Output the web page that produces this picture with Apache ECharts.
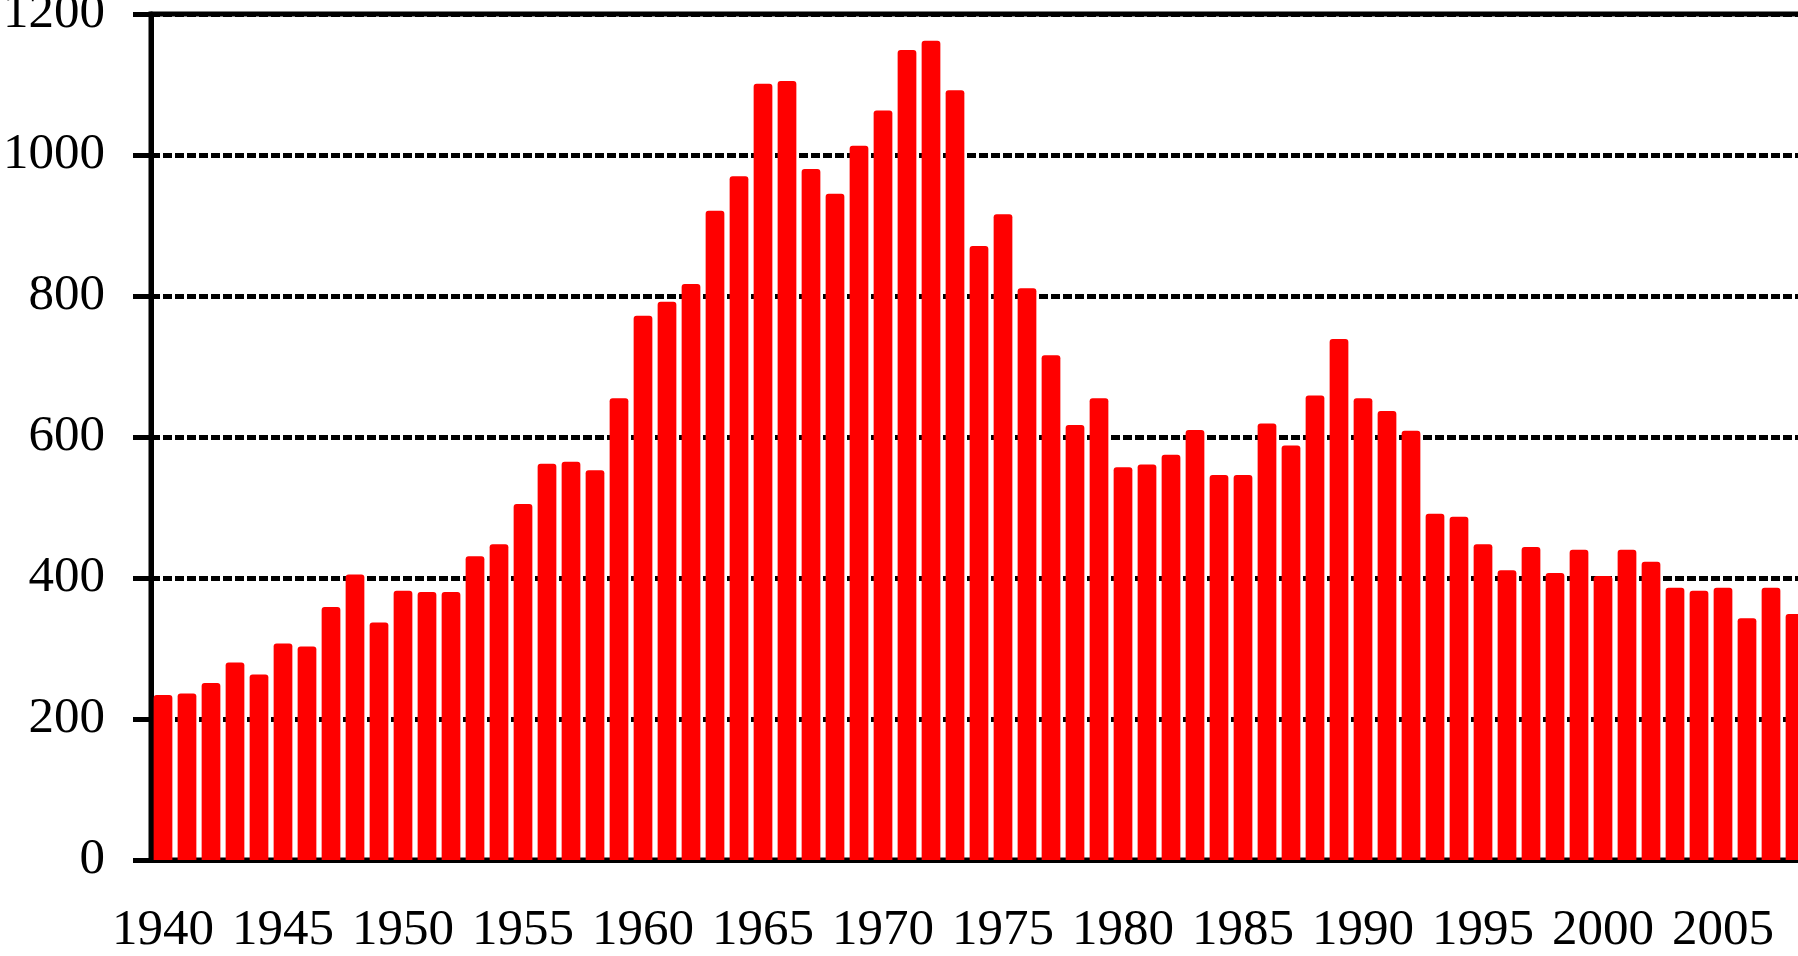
<!DOCTYPE html>
<html>
<head>
<meta charset="utf-8">
<title>chart</title>
<script src="https://cdn.jsdelivr.net/npm/echarts@6/dist/echarts.min.js"></script>
<style>
    html, body { margin: 0; padding: 0; background: #fff; }
    #chartBox { width: 1798px; height: 956px; }
</style>
</head>
<body>
<div id="chartBox"></div>
<script>
    // 年份 1940 - 2008
    let years = [];
    for (let y = 1940; y <= 2008; y++) years.push(String(y));

    // 每年数值
    let values = [
        234, 236, 251, 280, 263, 307, 303, 359, 405, 337,   // 1940-1949
        382, 380, 380, 431, 448, 505, 562, 565, 553, 655,   // 1950-1959
        772, 792, 817, 921, 970, 1101, 1105, 980, 945, 1013, // 1960-1969
        1063, 1149, 1162, 1092, 871, 916, 811, 716, 617, 655, // 1970-1979
        557, 561, 575, 610, 546, 546, 619, 588, 659, 739,   // 1980-1989
        655, 637, 609, 491, 487, 448, 411, 444, 407, 440,   // 1990-1999
        403, 440, 423, 386, 382, 386, 343, 386, 349         // 2000-2008
    ];

    // y轴刻度
    let yMin = 0;
    let yMax = 1200;
    let yStep = 200;

    let labelFont = {
        fontFamily: 'Liberation Serif',
        fontSize: 51,
        color: '#000'
    };

    let chart = echarts.init(document.getElementById('chartBox'));
    let option = {
        animation: false,
        backgroundColor: '#fff',
        grid: {
            left: 151,
            top: 14,
            width: 1656,   // 超出画布, 右侧被裁掉
            height: 846,
            outerBoundsMode: 'none',
            containLabel: false,
            show: true,
            borderColor: '#000',
            borderWidth: 5,
            backgroundColor: 'transparent'
        },
        xAxis: {
            type: 'category',
            data: years,
            boundaryGap: true,
            axisLine: { lineStyle: { color: '#000', width: 5 } },
            axisTick: {
                interval: 0,
                length: 17,
                lineStyle: { color: '#000', width: 4 }
            },
            axisLabel: Object.assign({ interval: 4, margin: 45 }, labelFont),
            splitLine: { show: false }
        },
        yAxis: {
            type: 'value',
            min: yMin,
            max: yMax,
            interval: yStep,
            axisLine: { show: true, lineStyle: { color: '#000', width: 5 } },
            axisTick: { show: true, length: 18, lineStyle: { color: '#000', width: 5 } },
            axisLabel: Object.assign({
                margin: 46,
                formatter: function (v) { return String(v); }
            }, labelFont),
            splitLine: {
                show: true,
                lineStyle: { color: '#000', width: 5, type: [9, 3] }
            }
        },
        series: [
            {
                type: 'bar',
                data: values,
                barCategoryGap: '22%',
                itemStyle: {
                    color: '#ff0000',
                    borderRadius: [3, 3, 0, 0]
                }
            }
        ]
    };
    chart.setOption(option);

    window.addEventListener('resize', function() { chart.resize() });
</script>
</body>
</html>
